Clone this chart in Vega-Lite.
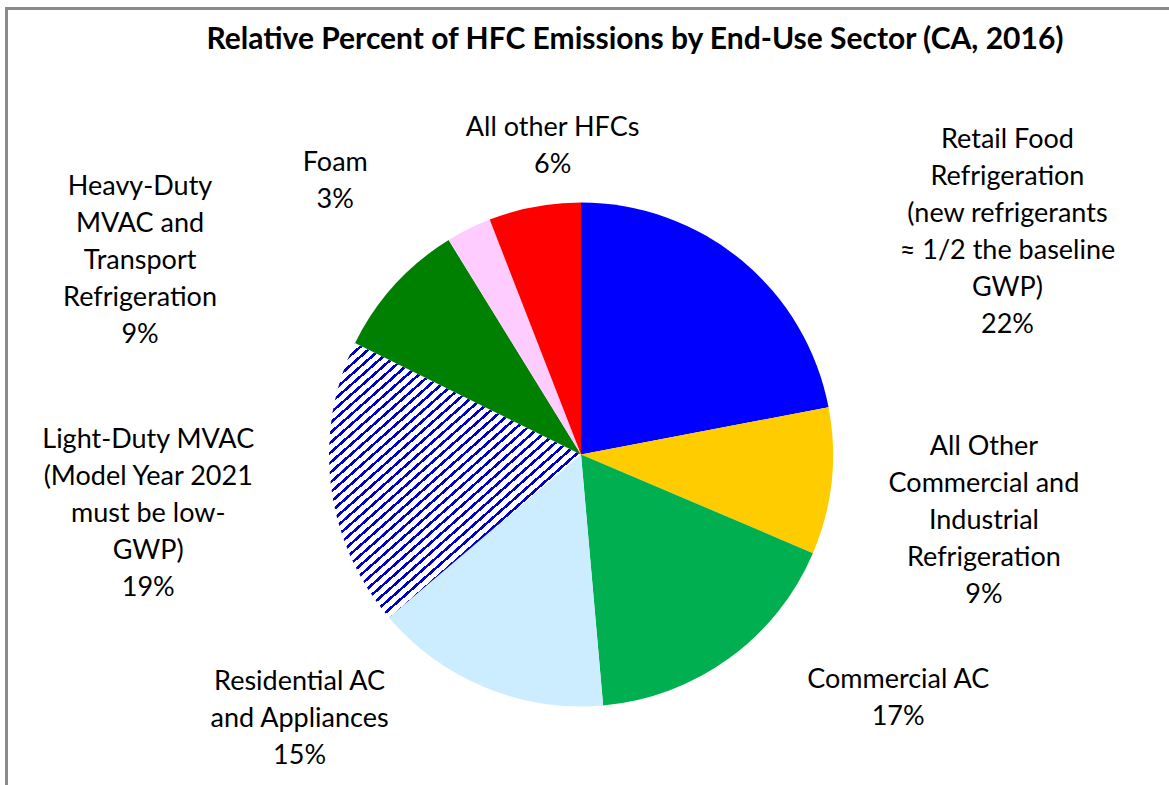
{
  "$schema": "https://vega.github.io/schema/vega-lite/v6.json",
  "autosize": {"type": "none"},
  "width": 1150,
  "height": 661,
  "padding": {"left": 6, "top": 124, "right": 13, "bottom": 0},
  "background": "#ffffff",
  "data": {
    "values": [
      {"idx": 1, "k": "RF", "sector": "Retail Food Refrigeration", "value": 22.0, "label": "Retail Food\nRefrigeration\n(new refrigerants\n≈ 1/2 the baseline\nGWP)\n22%"},
      {"idx": 2, "k": "AOC", "sector": "All Other Commercial and Industrial Refrigeration", "value": 9.4, "label": "All Other\nCommercial and\nIndustrial\nRefrigeration\n9%"},
      {"idx": 3, "k": "CAC", "sector": "Commercial AC", "value": 17.2, "label": "Commercial AC\n17%"},
      {"idx": 4, "k": "RES", "sector": "Residential AC and Appliances", "value": 15.2, "label": "Residential AC\nand Appliances\n15%"},
      {"idx": 5, "k": "LD", "sector": "Light-Duty MVAC", "value": 18.5, "label": "Light-Duty MVAC\n(Model Year 2021\nmust be low-\nGWP)\n19%"},
      {"idx": 6, "k": "HD", "sector": "Heavy-Duty MVAC and Transport Refrigeration", "value": 8.9, "label": "Heavy-Duty\nMVAC and\nTransport\nRefrigeration\n9%"},
      {"idx": 7, "k": "FOAM", "sector": "Foam", "value": 2.9, "label": "Foam\n3%"},
      {"idx": 8, "k": "OTH", "sector": "All other HFCs", "value": 5.9, "label": "All other HFCs\n6%"}
    ]
  },
  "layer": [
    {
      "mark": {"type": "point", "opacity": 0},
      "encoding": {
        "x": {"datum": 0, "type": "quantitative", "scale": {"domain": [0, 1], "range": [0, 1163]},
              "axis": {"orient": "top", "offset": 116, "domainColor": "#8a8a8a", "domainWidth": 3, "domainCap": "square", "ticks": false, "labels": false, "grid": false,
                       "title": "Relative Percent of HFC Emissions  by End-Use Sector (CA, 2016)",
                       "titleFont": "Lato", "titleFontSize": 30, "titleFontWeight": "bold", "titleColor": "#000000",
                       "titleX": 628.5, "titleY": 40.5, "titleAlign": "center", "titleBaseline": "alphabetic", "titleAngle": 0, "titleLimit": 2000}},
        "y": {"datum": 0, "type": "quantitative", "scale": {"domain": [0, 1], "range": [661, -116]},
              "axis": {"orient": "left", "offset": 0, "domainColor": "#8a8a8a", "domainWidth": 3, "domainCap": "square", "ticks": false, "labels": false, "grid": false, "title": null}}
      }
    },
    {
      "mark": {"type": "arc", "outerRadius": 252},
      "encoding": {
        "theta": {"field": "value", "type": "quantitative", "stack": true},
        "order": {"field": "idx", "type": "quantitative"},
        "fill": {
          "condition": {
            "test": "datum.k === 'LD'",
            "value": {
              "gradient": "linear", "x1": 0, "y1": 0, "x2": 0.884, "y2": 1.092,
              "stops": [
                {"offset":0,"color":"#0000c8"},{"offset":0.007,"color":"#0000c8"},{"offset":0.007,"color":"#ffffff"},{"offset":0.02,"color":"#ffffff"},
                {"offset":0.02,"color":"#0000c8"},{"offset":0.027,"color":"#0000c8"},{"offset":0.027,"color":"#ffffff"},{"offset":0.04,"color":"#ffffff"},
                {"offset":0.04,"color":"#0000c8"},{"offset":0.047,"color":"#0000c8"},{"offset":0.047,"color":"#ffffff"},{"offset":0.06,"color":"#ffffff"},
                {"offset":0.06,"color":"#0000c8"},{"offset":0.067,"color":"#0000c8"},{"offset":0.067,"color":"#ffffff"},{"offset":0.08,"color":"#ffffff"},
                {"offset":0.08,"color":"#0000c8"},{"offset":0.087,"color":"#0000c8"},{"offset":0.087,"color":"#ffffff"},{"offset":0.1,"color":"#ffffff"},
                {"offset":0.1,"color":"#0000c8"},{"offset":0.107,"color":"#0000c8"},{"offset":0.107,"color":"#ffffff"},{"offset":0.12,"color":"#ffffff"},
                {"offset":0.12,"color":"#0000c8"},{"offset":0.127,"color":"#0000c8"},{"offset":0.127,"color":"#ffffff"},{"offset":0.14,"color":"#ffffff"},
                {"offset":0.14,"color":"#0000c8"},{"offset":0.147,"color":"#0000c8"},{"offset":0.147,"color":"#ffffff"},{"offset":0.16,"color":"#ffffff"},
                {"offset":0.16,"color":"#0000c8"},{"offset":0.167,"color":"#0000c8"},{"offset":0.167,"color":"#ffffff"},{"offset":0.18,"color":"#ffffff"},
                {"offset":0.18,"color":"#0000c8"},{"offset":0.187,"color":"#0000c8"},{"offset":0.187,"color":"#ffffff"},{"offset":0.2,"color":"#ffffff"},
                {"offset":0.2,"color":"#0000c8"},{"offset":0.207,"color":"#0000c8"},{"offset":0.207,"color":"#ffffff"},{"offset":0.22,"color":"#ffffff"},
                {"offset":0.22,"color":"#0000c8"},{"offset":0.227,"color":"#0000c8"},{"offset":0.227,"color":"#ffffff"},{"offset":0.24,"color":"#ffffff"},
                {"offset":0.24,"color":"#0000c8"},{"offset":0.247,"color":"#0000c8"},{"offset":0.247,"color":"#ffffff"},{"offset":0.26,"color":"#ffffff"},
                {"offset":0.26,"color":"#0000c8"},{"offset":0.267,"color":"#0000c8"},{"offset":0.267,"color":"#ffffff"},{"offset":0.28,"color":"#ffffff"},
                {"offset":0.28,"color":"#0000c8"},{"offset":0.287,"color":"#0000c8"},{"offset":0.287,"color":"#ffffff"},{"offset":0.3,"color":"#ffffff"},
                {"offset":0.3,"color":"#0000c8"},{"offset":0.307,"color":"#0000c8"},{"offset":0.307,"color":"#ffffff"},{"offset":0.32,"color":"#ffffff"},
                {"offset":0.32,"color":"#0000c8"},{"offset":0.327,"color":"#0000c8"},{"offset":0.327,"color":"#ffffff"},{"offset":0.34,"color":"#ffffff"},
                {"offset":0.34,"color":"#0000c8"},{"offset":0.347,"color":"#0000c8"},{"offset":0.347,"color":"#ffffff"},{"offset":0.36,"color":"#ffffff"},
                {"offset":0.36,"color":"#0000c8"},{"offset":0.367,"color":"#0000c8"},{"offset":0.367,"color":"#ffffff"},{"offset":0.38,"color":"#ffffff"},
                {"offset":0.38,"color":"#0000c8"},{"offset":0.387,"color":"#0000c8"},{"offset":0.387,"color":"#ffffff"},{"offset":0.4,"color":"#ffffff"},
                {"offset":0.4,"color":"#0000c8"},{"offset":0.407,"color":"#0000c8"},{"offset":0.407,"color":"#ffffff"},{"offset":0.42,"color":"#ffffff"},
                {"offset":0.42,"color":"#0000c8"},{"offset":0.427,"color":"#0000c8"},{"offset":0.427,"color":"#ffffff"},{"offset":0.44,"color":"#ffffff"},
                {"offset":0.44,"color":"#0000c8"},{"offset":0.447,"color":"#0000c8"},{"offset":0.447,"color":"#ffffff"},{"offset":0.46,"color":"#ffffff"},
                {"offset":0.46,"color":"#0000c8"},{"offset":0.467,"color":"#0000c8"},{"offset":0.467,"color":"#ffffff"},{"offset":0.48,"color":"#ffffff"},
                {"offset":0.48,"color":"#0000c8"},{"offset":0.487,"color":"#0000c8"},{"offset":0.487,"color":"#ffffff"},{"offset":0.5,"color":"#ffffff"},
                {"offset":0.5,"color":"#0000c8"},{"offset":0.507,"color":"#0000c8"},{"offset":0.507,"color":"#ffffff"},{"offset":0.52,"color":"#ffffff"},
                {"offset":0.52,"color":"#0000c8"},{"offset":0.527,"color":"#0000c8"},{"offset":0.527,"color":"#ffffff"},{"offset":0.54,"color":"#ffffff"},
                {"offset":0.54,"color":"#0000c8"},{"offset":0.547,"color":"#0000c8"},{"offset":0.547,"color":"#ffffff"},{"offset":0.56,"color":"#ffffff"},
                {"offset":0.56,"color":"#0000c8"},{"offset":0.567,"color":"#0000c8"},{"offset":0.567,"color":"#ffffff"},{"offset":0.58,"color":"#ffffff"},
                {"offset":0.58,"color":"#0000c8"},{"offset":0.587,"color":"#0000c8"},{"offset":0.587,"color":"#ffffff"},{"offset":0.6,"color":"#ffffff"},
                {"offset":0.6,"color":"#0000c8"},{"offset":0.607,"color":"#0000c8"},{"offset":0.607,"color":"#ffffff"},{"offset":0.62,"color":"#ffffff"},
                {"offset":0.62,"color":"#0000c8"},{"offset":0.627,"color":"#0000c8"},{"offset":0.627,"color":"#ffffff"},{"offset":0.64,"color":"#ffffff"},
                {"offset":0.64,"color":"#0000c8"},{"offset":0.647,"color":"#0000c8"},{"offset":0.647,"color":"#ffffff"},{"offset":0.66,"color":"#ffffff"},
                {"offset":0.66,"color":"#0000c8"},{"offset":0.667,"color":"#0000c8"},{"offset":0.667,"color":"#ffffff"},{"offset":0.68,"color":"#ffffff"},
                {"offset":0.68,"color":"#0000c8"},{"offset":0.687,"color":"#0000c8"},{"offset":0.687,"color":"#ffffff"},{"offset":0.7,"color":"#ffffff"},
                {"offset":0.7,"color":"#0000c8"},{"offset":0.707,"color":"#0000c8"},{"offset":0.707,"color":"#ffffff"},{"offset":0.72,"color":"#ffffff"},
                {"offset":0.72,"color":"#0000c8"},{"offset":0.727,"color":"#0000c8"},{"offset":0.727,"color":"#ffffff"},{"offset":0.74,"color":"#ffffff"},
                {"offset":0.74,"color":"#0000c8"},{"offset":0.747,"color":"#0000c8"},{"offset":0.747,"color":"#ffffff"},{"offset":0.76,"color":"#ffffff"},
                {"offset":0.76,"color":"#0000c8"},{"offset":0.767,"color":"#0000c8"},{"offset":0.767,"color":"#ffffff"},{"offset":0.78,"color":"#ffffff"},
                {"offset":0.78,"color":"#0000c8"},{"offset":0.787,"color":"#0000c8"},{"offset":0.787,"color":"#ffffff"},{"offset":0.8,"color":"#ffffff"},
                {"offset":0.8,"color":"#0000c8"},{"offset":0.807,"color":"#0000c8"},{"offset":0.807,"color":"#ffffff"},{"offset":0.82,"color":"#ffffff"},
                {"offset":0.82,"color":"#0000c8"},{"offset":0.827,"color":"#0000c8"},{"offset":0.827,"color":"#ffffff"},{"offset":0.84,"color":"#ffffff"},
                {"offset":0.84,"color":"#0000c8"},{"offset":0.847,"color":"#0000c8"},{"offset":0.847,"color":"#ffffff"},{"offset":0.86,"color":"#ffffff"},
                {"offset":0.86,"color":"#0000c8"},{"offset":0.867,"color":"#0000c8"},{"offset":0.867,"color":"#ffffff"},{"offset":0.88,"color":"#ffffff"},
                {"offset":0.88,"color":"#0000c8"},{"offset":0.887,"color":"#0000c8"},{"offset":0.887,"color":"#ffffff"},{"offset":0.9,"color":"#ffffff"},
                {"offset":0.9,"color":"#0000c8"},{"offset":0.907,"color":"#0000c8"},{"offset":0.907,"color":"#ffffff"},{"offset":0.92,"color":"#ffffff"},
                {"offset":0.92,"color":"#0000c8"},{"offset":0.927,"color":"#0000c8"},{"offset":0.927,"color":"#ffffff"},{"offset":0.94,"color":"#ffffff"},
                {"offset":0.94,"color":"#0000c8"},{"offset":0.947,"color":"#0000c8"},{"offset":0.947,"color":"#ffffff"},{"offset":0.96,"color":"#ffffff"},
                {"offset":0.96,"color":"#0000c8"},{"offset":0.967,"color":"#0000c8"},{"offset":0.967,"color":"#ffffff"},{"offset":0.98,"color":"#ffffff"},
                {"offset":0.98,"color":"#0000c8"},{"offset":0.987,"color":"#0000c8"},{"offset":0.987,"color":"#ffffff"},{"offset":1,"color":"#ffffff"}
              ]
            }
          },
          "field": "k",
          "type": "nominal",
          "scale": {
            "domain": ["RF", "AOC", "CAC", "RES", "LD", "HD", "FOAM", "OTH"],
            "range": ["#0000ff", "#ffcc00", "#00b050", "#ccecff", "#ffffff", "#008000", "#ffccff", "#ff0000"]
          },
          "legend": null
        }
      }
    },
    {
      "mark": {"type": "text", "radius": 530},
      "encoding": {
        "theta": {"field": "value", "type": "quantitative", "stack": true, "scale": {"range": [0.244, 6.527]}},
        "order": {"field": "idx", "type": "quantitative"},
        "text": {"condition": {"test": "datum.k === 'RF'", "field": "label"}, "value": ""}
      }
    },
    {
      "mark": {"type": "text", "radius": 403},
      "encoding": {
        "theta": {"field": "value", "type": "quantitative", "stack": true, "scale": {"range": [-0.126, 6.157]}},
        "order": {"field": "idx", "type": "quantitative"},
        "text": {"condition": {"test": "datum.k === 'AOC'", "field": "label"}, "value": ""}
      }
    },
    {
      "mark": {"type": "text", "radius": 389},
      "encoding": {
        "theta": {"field": "value", "type": "quantitative", "stack": true, "scale": {"range": [-0.325, 5.958]}},
        "order": {"field": "idx", "type": "quantitative"},
        "text": {"condition": {"test": "datum.k === 'CAC'", "field": "label"}, "value": ""}
      }
    },
    {
      "mark": {"type": "text", "radius": 362},
      "encoding": {
        "theta": {"field": "value", "type": "quantitative", "stack": true, "scale": {"range": [0.501, 6.784]}},
        "order": {"field": "idx", "type": "quantitative"},
        "text": {"condition": {"test": "datum.k === 'RES'", "field": "label"}, "value": ""}
      }
    },
    {
      "mark": {"type": "text", "radius": 433},
      "encoding": {
        "theta": {"field": "value", "type": "quantitative", "stack": true, "scale": {"range": [0.155, 6.438]}},
        "order": {"field": "idx", "type": "quantitative"},
        "text": {"condition": {"test": "datum.k === 'LD'", "field": "label"}, "value": ""}
      }
    },
    {
      "mark": {"type": "text", "radius": 516},
      "encoding": {
        "theta": {"field": "value", "type": "quantitative", "stack": true, "scale": {"range": [-0.192, 6.091]}},
        "order": {"field": "idx", "type": "quantitative"},
        "text": {"condition": {"test": "datum.k === 'HD'", "field": "label"}, "value": ""}
      }
    },
    {
      "mark": {"type": "text", "radius": 381},
      "encoding": {
        "theta": {"field": "value", "type": "quantitative", "stack": true, "scale": {"range": [-0.239, 6.044]}},
        "order": {"field": "idx", "type": "quantitative"},
        "text": {"condition": {"test": "datum.k === 'FOAM'", "field": "label"}, "value": ""}
      }
    },
    {
      "mark": {"type": "text", "radius": 328},
      "encoding": {
        "theta": {"field": "value", "type": "quantitative", "stack": true, "scale": {"range": [0.099, 6.382]}},
        "order": {"field": "idx", "type": "quantitative"},
        "text": {"condition": {"test": "datum.k === 'OTH'", "field": "label"}, "value": ""}
      }
    }
  ],
  "resolve": {"scale": {"theta": "independent"}},
  "config": {
    "view": {"stroke": null},
    "text": {"font": "Lato", "fontSize": 27, "lineHeight": 37, "align": "center", "baseline": "middle", "color": "#000000", "lineBreak": "\n"}
  }
}
